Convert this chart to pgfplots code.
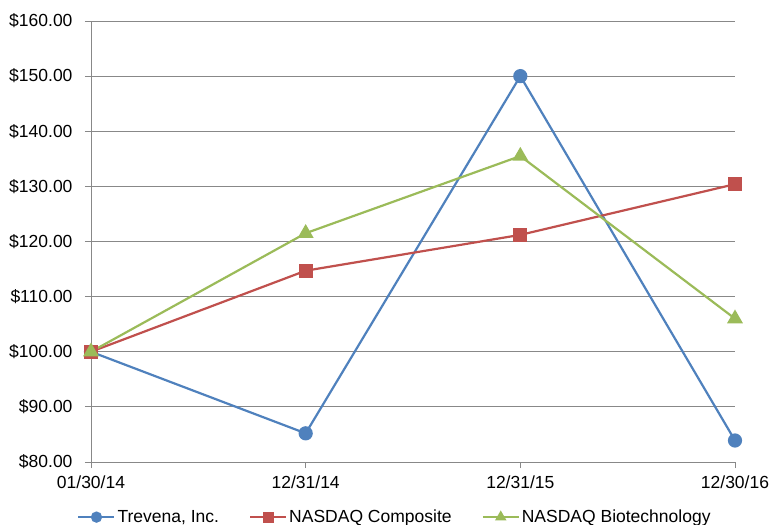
\documentclass[border=0pt]{standalone}
\usepackage{pgfplots}
\pgfplotsset{compat=1.18}
\usepackage{fontspec}
\setmainfont{Liberation Sans}
\definecolor{trev}{HTML}{4F81BD}
\definecolor{comp}{HTML}{C0504D}
\definecolor{biot}{HTML}{9BBB59}
\definecolor{gridc}{HTML}{888888}
\begin{document}
\begin{tikzpicture}[font=\fontsize{17.5bp}{20bp}\selectfont]
\begin{axis}[
    name=ax,
    scale only axis,
    width=644bp, height=441bp,
    xmin=0, xmax=3, ymin=80, ymax=160,
    xtick={0,1,2,3},
    xticklabels={01/30/14,12/31/14,12/31/15,12/30/16},
    ytick={80,90,...,160},
    yticklabel={\$\pgfmathprintnumber[fixed,fixed zerofill,precision=2]{\tick}},
    /pgf/number format/assume math mode=true,
    ymajorgrids,
    grid style={gridc, line width=0.9bp},
    axis x line*=bottom, axis y line*=left,
    axis line style={gridc, line width=0.9bp, -},
    tick style={gridc, line width=0.9bp},
    tick align=outside,
    major tick length=6bp,
    yticklabel style={xshift=-9bp},
    xticklabel style={yshift=-4bp},
    clip=false,
    legend style={at={(0.472,-0.125)}, anchor=center, draw=none, legend columns=3,
        /tikz/every even column/.append style={column sep=28bp}},
    legend image code/.code={
        \draw[mark repeat=2, mark phase=2, #1] plot coordinates {(0bp,0bp) (18bp,0bp) (36bp,0bp)};
    },
    legend image post style={line width=2.2bp, mark size=4.5bp},
]
\addplot[trev, line width=2.2bp, mark=*, mark size=6bp] coordinates {
    (0,100) (1,85.2) (2,150) (3,83.9)
};
\addlegendentry{Trevena, Inc.}
\addplot[comp, line width=2.2bp, mark=square*, mark size=6bp] coordinates {
    (0,100) (1,114.7) (2,121.2) (3,130.4)
};
\addlegendentry{NASDAQ Composite}
\addplot[biot, line width=2.2bp, mark=triangle*, mark size=7bp] coordinates {
    (0,100) (1,121.5) (2,135.5) (3,106)
};
\addlegendentry{NASDAQ Biotechnology}
\coordinate (bl) at (rel axis cs:0,0);
\coordinate (tr) at (rel axis cs:1,1);
\end{axis}
\pgfresetboundingbox
\useasboundingbox ([xshift=-91bp,yshift=-63bp]bl) rectangle ([xshift=34bp,yshift=21bp]tr);
\end{tikzpicture}
\end{document}
